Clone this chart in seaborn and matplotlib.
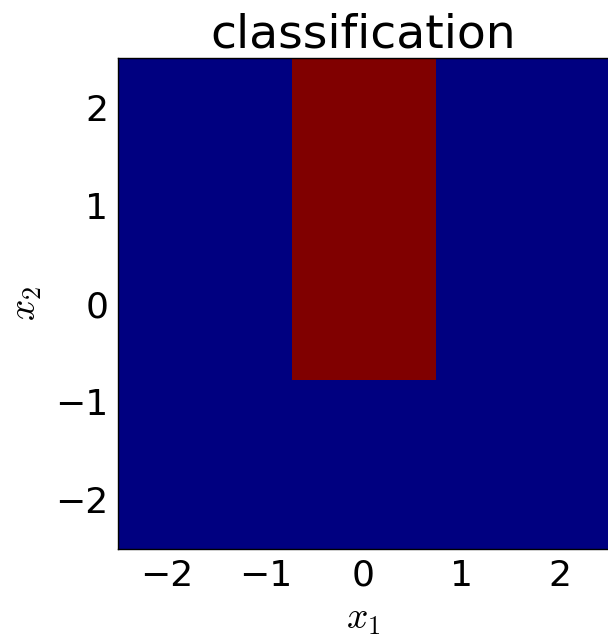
import matplotlib
matplotlib.use("Agg")
import matplotlib.pyplot as plt
import numpy as np
import seaborn as sns

# decision regions (cell edges and predicted class per cell)
x1_edges = [-2.5, -0.73, 0.74, 2.5]
x2_edges = [-2.5, -0.78, 2.5]
predicted_class = [
    [0, 0, 0],  # x2 below -0.78
    [0, 1, 0],  # x2 above -0.78
]
x_ticks = [-2, -1, 0, 1, 2]
y_ticks = [-2, -1, 0, 1, 2]

sns.set_theme(
    style="white",
    rc={
        "xtick.direction": "in",
        "ytick.direction": "in",
        "xtick.top": True,
        "ytick.right": True,
        "xtick.bottom": True,
        "ytick.left": True,
        "axes.edgecolor": "black",
        "axes.linewidth": 1.0,
        "text.color": "black",
        "axes.labelcolor": "black",
        "xtick.color": "black",
        "ytick.color": "black",
    },
)
plt.rcParams["font.family"] = ["DejaVu Sans"]
plt.rcParams["mathtext.fontset"] = "cm"

fig = plt.figure(figsize=(6.08, 6.4), dpi=100)
ax = fig.add_axes([118 / 608, 91 / 640, 491 / 608, 491 / 640])

ax.pcolormesh(
    x1_edges,
    x2_edges,
    np.array(predicted_class),
    cmap="jet",
    vmin=0,
    vmax=1,
    shading="flat",
)
ax.set_xlim(x1_edges[0], x1_edges[-1])
ax.set_ylim(x2_edges[0], x2_edges[-1])
ax.set_xticks(x_ticks)
ax.set_yticks(y_ticks)
ax.tick_params(axis="both", which="major", length=5, width=0.8, color="black",
               labelsize=26, pad=7)
ax.set_xlabel("$x_1$", fontsize=27, labelpad=6)
ax.set_ylabel("$x_2$", fontsize=27, labelpad=8)
ax.set_title("classification", fontsize=34, pad=3)

fig.savefig("out.png", dpi=100)
plt.close(fig)
